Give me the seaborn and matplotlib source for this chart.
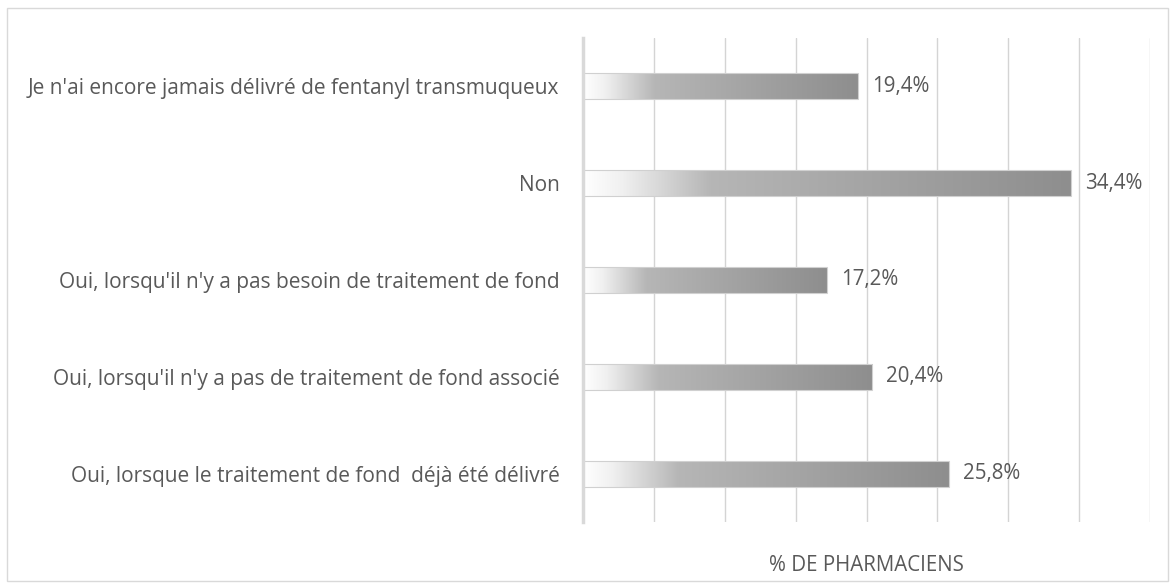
import matplotlib
matplotlib.use('Agg')
import matplotlib.pyplot as plt
import seaborn as sns
import numpy as np
import pandas as pd
from matplotlib.colors import LinearSegmentedColormap
from matplotlib.patches import Rectangle

# --- Data ---
categories = [
    "Je n'ai encore jamais délivré de fentanyl transmuqueux",
    "Non",
    "Oui, lorsqu'il n'y a pas besoin de traitement de fond",
    "Oui, lorsqu'il n'y a pas de traitement de fond associé",
    "Oui, lorsque le traitement de fond  déjà été délivré",
]
values = [19.4, 34.4, 17.2, 20.4, 25.8]
value_labels = ["19,4%", "34,4%", "17,2%", "20,4%", "25,8%"]
xlabel = "% DE PHARMACIENS"

df = pd.DataFrame({'categorie': categories, 'pct': values})

# --- Setup ---
sns.set_style('white')
plt.rcParams['font.family'] = ['Open Sans', 'DejaVu Sans']
text_color = '#595959'
grid_color = '#d4d4d4'

fig = plt.figure(figsize=(11.75, 5.88), dpi=100)
ax = fig.add_axes([583 / 1175, 66 / 588, 567 / 1175, 484 / 588])

sns.barplot(data=df, x='pct', y='categorie', orient='h', width=0.27,
            color='#a0a0a0', ax=ax, zorder=3)

ax.set_xlim(0, 40)
ax.set_ylim(4.5, -0.5)
ax.set_xticks(np.arange(0, 41, 5))
ax.set_xticklabels([])
ax.grid(axis='x', color=grid_color, linewidth=1.0, zorder=0)
ax.grid(axis='y', visible=False)
for side in ['top', 'right', 'bottom']:
    ax.spines[side].set_visible(False)
ax.spines['left'].set_color('#d9d9d9')
ax.spines['left'].set_linewidth(2.5)
ax.spines['left'].set_zorder(5)
ax.tick_params(axis='both', length=0)
ax.tick_params(axis='y', pad=17, labelsize=15, labelcolor=text_color)
ax.set_ylabel('')
ax.set_xlabel(xlabel, fontsize=14.8, color=text_color, labelpad=20)

# --- Gradient fill inside each bar ---
cmap = LinearSegmentedColormap.from_list(
    'bargrad',
    [(0.0, '#ffffff'), (0.08, '#f0f0f0'), (0.26, '#b6b6b6'), (1.0, '#8e8e8e')])
grad = np.linspace(0, 1, 256).reshape(1, -1)
for patch, lab in zip(ax.patches, value_labels):
    x0, y0 = patch.get_x(), patch.get_y()
    w, h = patch.get_width(), patch.get_height()
    patch.set_facecolor('none')
    patch.set_edgecolor('#d0d0d0')
    patch.set_linewidth(0.8)
    patch.set_zorder(4)
    im = ax.imshow(grad, cmap=cmap, aspect='auto', extent=(x0, x0 + w, y0 + h, y0),
                   zorder=2, interpolation='bicubic')
    im.set_clip_path(patch)
    ax.text(x0 + w + 1.0, y0 + h / 2, lab, va='center', ha='left',
            fontsize=14.8, color=text_color)

ax.set_ylim(4.5, -0.5)
ax.set_xlim(0, 40)

# outer frame
fig.patches.append(Rectangle((7 / 1175, 7 / 588), 1161 / 1175, 573 / 588,
                             transform=fig.transFigure, fill=False,
                             edgecolor='#d9d9d9', linewidth=1.0))

fig.savefig('out.png', dpi=100)
